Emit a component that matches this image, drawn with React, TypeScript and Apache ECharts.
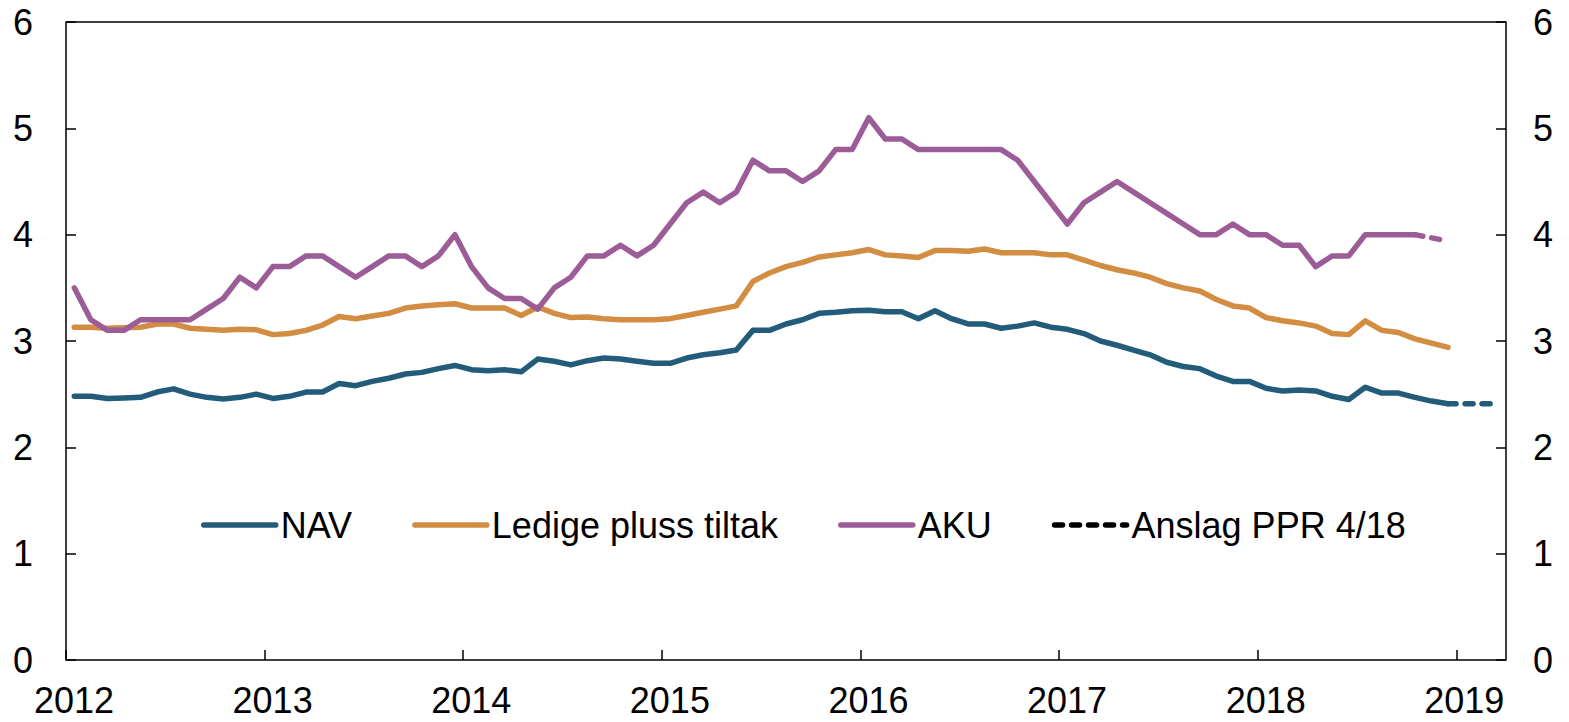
import React, { useEffect, useRef } from "react";
import * as echarts from "echarts";

// Monthly data, January 2012 onwards (per cent)
const startYear = 2012;
const nav = [
  2.48, 2.48, 2.46, 2.465, 2.47, 2.52, 2.55, 2.5, 2.47, 2.455, 2.47, 2.5,
  2.46, 2.48, 2.52, 2.52, 2.6, 2.58, 2.62, 2.65, 2.69, 2.705, 2.74, 2.77,
  2.73, 2.72, 2.73, 2.71, 2.83, 2.81, 2.775, 2.815, 2.84, 2.83, 2.81, 2.79,
  2.79, 2.84, 2.87, 2.89, 2.915, 3.1, 3.1, 3.16, 3.2, 3.26, 3.27, 3.285,
  3.29, 3.275, 3.275, 3.21, 3.285, 3.21, 3.16, 3.16, 3.12, 3.14, 3.17, 3.13,
  3.11, 3.07, 3.0, 2.96, 2.915, 2.87, 2.8, 2.76, 2.74, 2.67, 2.62, 2.62,
  2.555, 2.53, 2.54, 2.53, 2.48, 2.45, 2.565, 2.51, 2.51, 2.47, 2.435, 2.41,
];
const ledige = [
  3.13, 3.13, 3.12, 3.125, 3.13, 3.16, 3.16, 3.12, 3.11, 3.1, 3.11, 3.105,
  3.06, 3.07, 3.1, 3.15, 3.23, 3.21, 3.235, 3.26, 3.31, 3.33, 3.34, 3.35,
  3.31, 3.31, 3.31, 3.24, 3.32, 3.26, 3.22, 3.225, 3.21, 3.2, 3.2, 3.2,
  3.21, 3.24, 3.27, 3.3, 3.33, 3.56, 3.64, 3.7, 3.74, 3.79, 3.81, 3.83,
  3.86, 3.81, 3.8, 3.785, 3.85, 3.85, 3.845, 3.865, 3.83, 3.83, 3.83, 3.81,
  3.81, 3.76, 3.71, 3.67, 3.64, 3.6, 3.54, 3.5, 3.47, 3.39, 3.33, 3.31,
  3.22, 3.19, 3.17, 3.14, 3.07, 3.06, 3.19, 3.1, 3.08, 3.02, 2.98, 2.94,
];
const aku = [
  3.5, 3.2, 3.1, 3.1, 3.2, 3.2, 3.2, 3.2, 3.3, 3.4, 3.6, 3.5,
  3.7, 3.7, 3.8, 3.8, 3.7, 3.6, 3.7, 3.8, 3.8, 3.7, 3.8, 4.0,
  3.7, 3.5, 3.4, 3.4, 3.3, 3.5, 3.6, 3.8, 3.8, 3.9, 3.8, 3.9,
  4.1, 4.3, 4.4, 4.3, 4.4, 4.7, 4.6, 4.6, 4.5, 4.6, 4.8, 4.8,
  5.1, 4.9, 4.9, 4.8, 4.8, 4.8, 4.8, 4.8, 4.8, 4.7, 4.5, 4.3,
  4.1, 4.3, 4.4, 4.5, 4.4, 4.3, 4.2, 4.1, 4.0, 4.0, 4.1, 4.0,
  4.0, 3.9, 3.9, 3.7, 3.8, 3.8, 4.0, 4.0, 4.0, 4.0,
];
// Forecasts (Anslag PPR 4/18)
const navForecastStart = 83; // Dec 2018
const navForecast = [2.41, 2.41, 2.41, 2.41];
const akuForecastStart = 81; // Oct 2018
const akuForecast = [4.0, 3.97, 3.94];

const yearTicks = [2012, 2013, 2014, 2015, 2016, 2017, 2018, 2019];
const legendNames = ["NAV", "Ledige pluss tiltak", "AKU", "Anslag PPR 4/18"];

const colors = { nav: "#235c7b", ledige: "#d38d42", aku: "#9b5c98" };
const font = "'Liberation Sans', Arial, sans-serif";

const monthX = (i: number) => startYear + (i + 0.5) / 12;
const toPoints = (vals: number[], start = 0) =>
  vals.map((v, k) => [monthX(start + k), v]);

export default function App() {
  const ref = useRef<HTMLDivElement>(null);
  useEffect(() => {
    const chart = echarts.init(ref.current!, null, { renderer: "svg" });
    const lineBase = (color: string, dashed = false) => ({
      type: "line",
      showSymbol: false,
      symbol: "none",
      yAxisIndex: 0,
      lineStyle: {
        color,
        width: 5.5,
        join: "round",
        cap: "round",
        type: dashed ? [8, 9] : "solid",
      },
      itemStyle: { color },
      emphasis: { disabled: true },
    });
    const yAxisCommon = {
      type: "value",
      min: 0,
      max: 6,
      interval: 1,
      splitLine: { show: false },
      axisLine: { show: false },
      axisTick: { show: true, inside: true, length: 10, lineStyle: { color: "#000", width: 1.5 } },
    };
    chart.setOption({
      animation: false,
      backgroundColor: "#fff",
      grid: {
        left: 66,
        right: 63,
        top: 22,
        bottom: 62,
        show: true,
        borderColor: "#000",
        borderWidth: 1.5,
        containLabel: false,
      },
      legend: {
        data: legendNames,
        left: 196,
        top: 502,
        itemWidth: 72,
        itemHeight: 14,
        itemGap: 60,
        lineStyle: { width: 5.5, cap: "round" },
        itemStyle: { opacity: 0 },
        textStyle: { fontSize: 36, color: "#000", fontFamily: font },
        selectedMode: false,
      },
      xAxis: {
        type: "value",
        min: 2012,
        max: 2019.25,
        interval: 1,
        splitLine: { show: false },
        axisLine: { show: false },
        axisTick: { show: true, inside: true, length: 10, lineStyle: { color: "#000", width: 1.5 } },
        axisLabel: {
          showMaxLabel: false,
          margin: 23,
          fontSize: 36,
          lineHeight: 34,
          color: "#000",
          fontFamily: font,
          padding: [0, 0, 0, 16],
          formatter: (v: number) => (yearTicks.includes(v) ? String(v) : ""),
        },
      },
      yAxis: [
        {
          ...yAxisCommon,
          position: "left",
          axisLabel: { margin: 33, fontSize: 36, color: "#000", fontFamily: font },
        },
        {
          ...yAxisCommon,
          position: "right",
          axisLabel: { margin: 27, fontSize: 36, color: "#000", fontFamily: font },
        },
      ],
      series: [
        { ...lineBase(colors.nav), name: "NAV", data: toPoints(nav) },
        { ...lineBase(colors.ledige), name: "Ledige pluss tiltak", data: toPoints(ledige) },
        { ...lineBase(colors.aku), name: "AKU", data: toPoints(aku) },
        { ...lineBase(colors.nav, true), name: "NAV anslag", data: toPoints(navForecast, navForecastStart) },
        { ...lineBase(colors.aku, true), name: "AKU anslag", data: toPoints(akuForecast, akuForecastStart) },
        { ...lineBase("#000", true), name: "Anslag PPR 4/18", data: [] },
      ],
    });
    return () => chart.dispose();
  }, []);
  return (
    <div
      ref={ref}
      style={{ position: "fixed", left: 0, top: 0, width: 1569, height: 722, background: "#fff" }}
    />
  );
}
